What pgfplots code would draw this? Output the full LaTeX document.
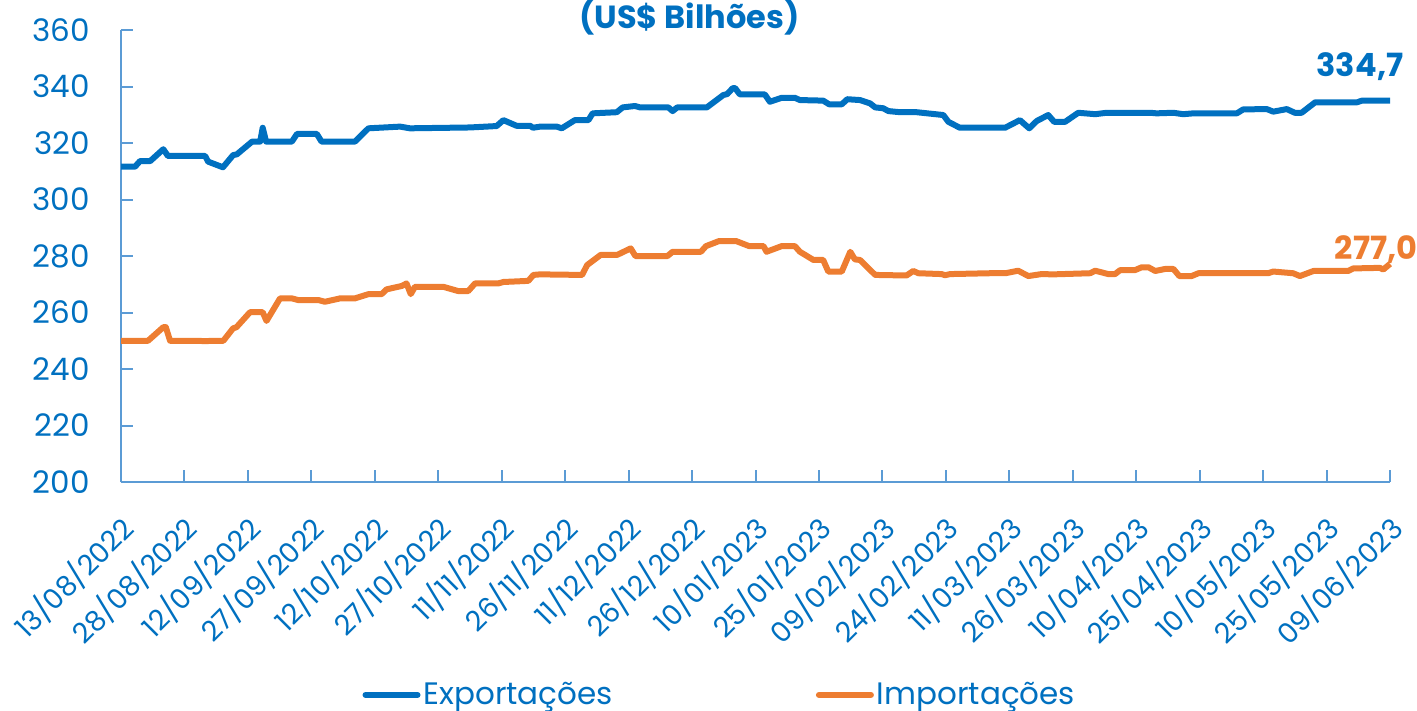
\documentclass[border=0pt]{standalone}
\usepackage{pgfplots}
\pgfplotsset{compat=1.18}
\usepackage{fontspec}
\setmainfont{Poppins}
\definecolor{cblue}{HTML}{0070C0}
\definecolor{corange}{HTML}{ED7D31}
\definecolor{caxis}{HTML}{5B9BD5}
\begin{document}
\begin{tikzpicture}
\begin{axis}[
  at={(60.5pt,-241pt)}, anchor=south west,
  scale only axis, width=634.5pt, height=226pt,
  xmin=0, xmax=300, ymin=200, ymax=360,
  clip=false,
  axis line style={caxis, line width=1pt},
  axis x line*=bottom, axis y line*=left,
  tick style={caxis, line width=1pt},
  major tick length=6pt,
  tick align=inside,
  ytick={200,220,...,360},
  xtick={0,15,...,300},
  xticklabels={13/08/2022,28/08/2022,12/09/2022,27/09/2022,12/10/2022,27/10/2022,11/11/2022,26/11/2022,11/12/2022,26/12/2022,10/01/2023,25/01/2023,09/02/2023,24/02/2023,11/03/2023,26/03/2023,10/04/2023,25/04/2023,10/05/2023,25/05/2023,09/06/2023},
  /pgf/number format/assume math mode=true,
  tick label style={font=\fontsize{15.5}{18}\selectfont, text=cblue, inner sep=0pt},
  yticklabel style={anchor=east, xshift=-15.5pt},
  xticklabel style={font=\fontsize{14}{17}\selectfont, xshift=-2pt, yshift=-15pt, rotate=45, anchor=north east},
  legend style={at={(0.19,-0.471)}, anchor=west, draw=none, inner sep=0pt,
    font=\fontsize{15.5}{18}\selectfont, text=cblue,
    legend columns=2,
    nodes={inner sep=1.5pt},
    /tikz/every even column/.append style={column sep=100pt}},
  legend image code/.code={\draw[#1, line cap=round] (0pt,0pt) -- (26pt,0pt);},
]
\addplot[cblue, line width=3pt, line join=round] coordinates {
(0,311.6)(3.3,311.6)(4.5,313.6)(6.9,313.6)(10.0,317.8)(11.1,315.4)(19.9,315.4)(20.6,313.4)(24.1,311.4)(26.5,315.7)(27.4,316.0)(31.0,320.5)(32.9,320.5)(33.5,325.4)(34.3,320.5)(40.4,320.5)(41.6,323.2)(46.3,323.2)(47.4,320.5)(55.3,320.5)(58.5,325.2)(66.0,325.8)(68.3,325.2)(82.5,325.5)(88.8,326.0)(90.4,328.1)(93.5,326.1)(96.7,326.1)(97.4,325.4)(99.1,325.8)(103.0,325.8)(104.2,325.2)(107.3,328.1)(110.5,328.1)(111.5,330.5)(117.2,330.9)(118.6,332.6)(121.5,333.1)(122.7,332.6)(129.4,332.6)(130.4,331.3)(131.5,332.6)(138.5,332.6)(142.4,337.0)(143.3,337.3)(144.6,339.4)(145.2,339.4)(146.3,337.2)(152.2,337.2)(153.4,334.6)(156.2,336.0)(159.3,336.0)(160.5,335.2)(166.0,335.0)(167.4,333.7)(170.4,333.7)(171.7,335.5)(174.7,335.2)(177.1,334.0)(178.3,332.6)(180.2,332.3)(181.4,331.3)(184.2,330.9)(188.1,330.9)(194.4,329.9)(195.6,327.5)(198.3,325.4)(209.0,325.4)(212.5,328.1)(214.7,325.2)(216.5,327.8)(219.2,329.9)(220.6,327.5)(223.2,327.5)(226.3,330.7)(230.3,330.2)(233.0,330.7)(243.3,330.7)(244.8,330.5)(248.8,330.7)(251.1,330.2)(253.5,330.5)(263.8,330.5)(265.3,331.9)(270.9,332.0)(272.4,331.1)(275.6,332.0)(277.5,330.7)(279.1,330.7)(282.3,334.4)(292.2,334.4)(293.4,335.0)(300,335.0)
};
\addlegendentry{Exportações}
\addplot[corange, line width=3pt, line join=round] coordinates {
(0,250.0)(6.4,250.0)(10.0,254.8)(10.6,254.8)(11.6,250.0)(20.2,249.9)(24.2,250.0)(26.5,254.4)(27.3,254.8)(30.5,260.1)(33.5,260.1)(34.4,257.0)(37.6,265.0)(40.4,265.0)(41.9,264.4)(46.7,264.4)(48.2,263.8)(51.8,265.0)(55.3,265.0)(58.5,266.5)(61.6,266.5)(62.8,268.2)(66.4,269.4)(67.5,270.3)(68.5,266.5)(69.5,269.1)(76.2,269.1)(79.7,267.6)(82.1,267.6)(83.7,270.3)(89.2,270.3)(90.4,270.8)(96.3,271.2)(97.5,273.3)(99.1,273.5)(109.0,273.3)(110.2,276.8)(113.4,280.4)(117.3,280.4)(120.5,282.7)(121.6,280.0)(129.2,280.0)(130.4,281.5)(137.1,281.5)(138.3,283.5)(141.4,285.3)(145.4,285.3)(148.5,283.5)(151.9,283.5)(152.6,281.5)(156.2,283.5)(159.3,283.5)(160.5,281.5)(163.7,278.6)(166.0,278.6)(167.2,274.5)(170.4,274.5)(172.4,281.5)(173.5,278.8)(174.7,278.6)(178.3,273.3)(185.7,273.1)(187.3,274.7)(188.5,273.9)(194.0,273.6)(194.8,273.2)(196.0,273.6)(205.4,273.9)(209.1,273.9)(212.1,274.8)(214.5,272.9)(217.6,273.6)(220.4,273.5)(229.1,273.9)(230.3,274.8)(233.4,273.6)(235.0,273.6)(236.2,275.0)(239.7,275.0)(241.3,276.0)(242.9,276.0)(244.5,274.7)(246.8,275.4)(248.8,275.4)(250.2,272.9)(253.1,272.9)(254.7,273.9)(271.2,273.9)(272.4,274.5)(277.1,273.9)(278.7,272.9)(281.9,274.7)(290.1,274.7)(291.3,275.6)(297.6,275.8)(298.4,275.2)(300,277.2)
};
\addlegendentry{Importações}
\node[anchor=base, font=\bfseries\fontsize{16}{19}\selectfont, text=cblue] at (axis cs:292.9,343.4) {334,7};
\node[anchor=base, font=\bfseries\fontsize{16}{19}\selectfont, text=corange] at (axis cs:296.7,278.6) {277,0};
\node[anchor=base, font=\bfseries\fontsize{16}{19}\selectfont, text=cblue] at (rel axis cs:0.448,1.0044) {(US\$ Bilhões)};
\end{axis}
\pgfresetboundingbox
\useasboundingbox (0,0) rectangle (708.5pt,-355.5pt);
\end{tikzpicture}
\end{document}
